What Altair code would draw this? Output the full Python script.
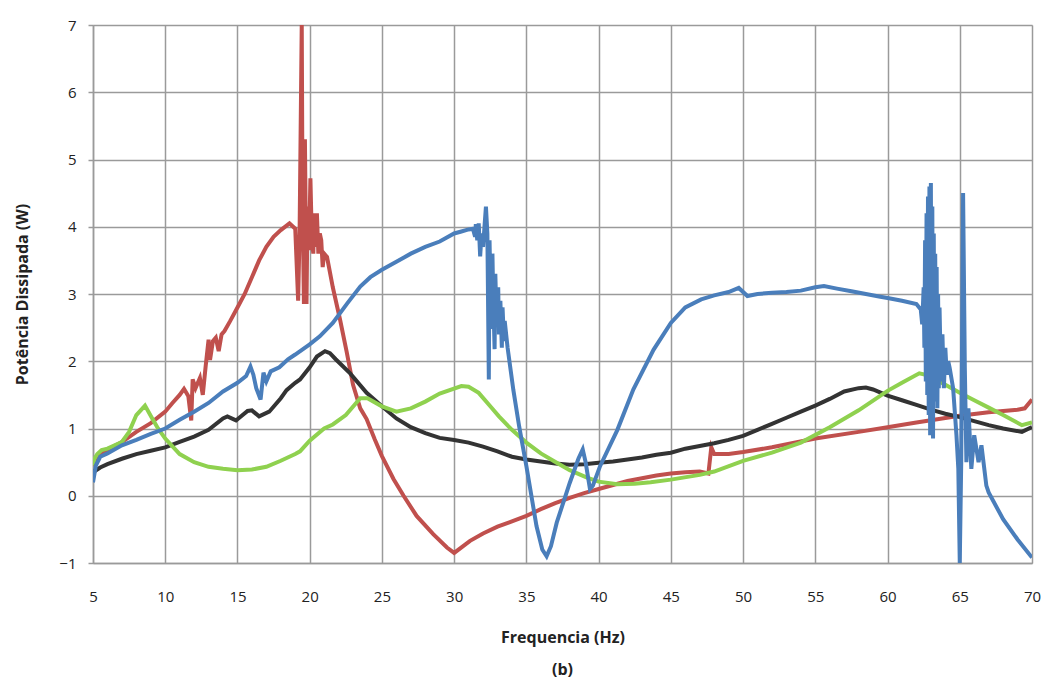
import altair as alt
import pandas as pd

# ---- data ----
red_hz = [5.0, 5.5, 6, 7, 8, 9, 10, 10.5, 11, 11.3, 11.6, 11.8, 11.9, 12.1, 12.4, 12.6, 12.8, 13.0, 13.1,
          13.3, 13.5, 13.7, 13.9, 14.1, 14.5, 15, 15.5, 16, 16.5, 17, 17.5, 18, 18.6, 19.0, 19.2, 19.3,
          19.45, 19.5, 19.6, 19.67, 19.78, 19.85, 19.95, 20.05, 20.15, 20.25, 20.3, 20.4, 20.5, 20.6,
          20.7, 20.8, 20.9, 21.0, 21.2, 21.6, 22.1, 22.55, 23.0, 23.5, 23.94, 24.5, 25, 25.8, 26.5, 27.4,
          28.55, 29.5, 30, 31.1, 32, 33, 34, 35, 36, 37, 38, 39, 40, 41, 42, 43, 44, 45, 46, 47, 47.6,
          47.8, 48, 49, 50, 52, 55, 58, 60, 62, 65, 67, 69, 69.5, 70]
red_w = [0.45, 0.6, 0.68, 0.8, 0.95, 1.08, 1.25, 1.38, 1.5, 1.59, 1.48, 1.12, 1.73, 1.6, 1.75, 1.5, 1.93,
         2.32, 2.02, 2.3, 2.35, 2.15, 2.4, 2.45, 2.6, 2.8, 3.0, 3.25, 3.5, 3.7, 3.85, 3.95, 4.05, 3.97,
         2.9, 3.9, 7.02, 4.5, 2.85, 5.3, 2.85, 4.3, 3.65, 4.72, 3.8, 3.6, 4.2, 3.7, 4.2, 3.6, 3.9, 3.8,
         3.4, 3.6, 3.55, 3.1, 2.62, 2.15, 1.65, 1.3, 1.14, 0.84, 0.59, 0.25, 0.0, -0.3, -0.57, -0.77,
         -0.85, -0.67, -0.56, -0.46, -0.38, -0.3, -0.2, -0.11, -0.03, 0.04, 0.1, 0.16, 0.22, 0.26, 0.3,
         0.33, 0.35, 0.36, 0.33, 0.72, 0.62, 0.62, 0.65, 0.72, 0.85, 0.95, 1.02, 1.09, 1.19, 1.24, 1.28,
         1.3, 1.43]

blue_hz = [5.0, 5.2, 5.5, 6, 7, 8, 9, 10, 11, 12, 13, 14, 15, 15.6, 15.9, 16.1, 16.3, 16.6, 16.8, 17.0,
           17.3, 17.9, 18.5, 19, 20, 20.7, 21.6, 22.6, 23.5, 24.2, 25, 26, 27, 28, 29, 30, 30.5, 31,
           31.3, 31.45, 31.5, 31.6, 31.7, 31.8, 31.9, 32.0, 32.1, 32.2, 32.3, 32.4, 32.45, 32.5, 32.6,
           32.65, 32.7, 32.8, 32.85, 32.9, 33.0, 33.05, 33.1, 33.2, 33.3, 33.35, 33.45, 33.5, 33.7, 34.1,
           34.5, 35, 35.7, 36.1, 36.4, 36.7, 37.1, 38, 38.6, 38.9, 39.1, 39.4, 39.6, 40.1, 41.3, 42.4,
           43.8, 45, 46, 47.1, 48, 49, 49.7, 50.3, 51, 52, 53, 54, 55, 55.6, 56.5, 57.5, 58.5, 59.5, 60,
           61, 62, 62.3, 62.4, 62.5, 62.55, 62.6, 62.65, 62.7, 62.75, 62.8, 62.85, 62.9, 62.95, 63.0,
           63.05, 63.1, 63.15, 63.2, 63.25, 63.3, 63.35, 63.4, 63.45, 63.5, 63.55, 63.6, 63.7, 63.8,
           63.9, 64.0, 64.1, 64.2, 64.3, 64.54, 64.77, 64.9, 65.0, 65.1, 65.23, 65.35, 65.46, 65.6,
           65.8, 66.0, 66.3, 66.5, 66.84, 67, 68, 69, 70]
blue_w = [0.2, 0.45, 0.58, 0.63, 0.75, 0.83, 0.92, 1.0, 1.13, 1.25, 1.38, 1.55, 1.68, 1.78, 1.92, 1.8,
          1.6, 1.43, 1.83, 1.7, 1.85, 1.91, 2.03, 2.1, 2.25, 2.37, 2.57, 2.86, 3.11, 3.25, 3.36, 3.48,
          3.6, 3.7, 3.78, 3.9, 3.93, 3.96, 3.97, 3.85, 4.04, 3.8, 4.05, 3.56, 3.9, 3.7, 4.0, 4.3, 3.9,
          1.73, 3.8, 3.2, 2.48, 3.6, 3.0, 2.18, 3.3, 2.9, 2.6, 3.1, 2.4, 2.9, 2.2, 2.8, 2.3, 2.6, 2.2,
          1.57, 1.03, 0.44, -0.45, -0.8, -0.9, -0.75, -0.4, 0.19, 0.55, 0.69, 0.5, 0.1, 0.15, 0.44, 0.98,
          1.58, 2.17, 2.57, 2.8, 2.92, 2.98, 3.03, 3.09, 2.97, 3.0, 3.02, 3.03, 3.05, 3.1, 3.12, 3.08,
          3.04, 3.0, 2.96, 2.94, 2.9, 2.85, 2.77, 2.55, 3.1, 2.2, 3.8, 1.7, 4.2, 1.5, 4.45, 1.2, 4.6, 0.9,
          4.65, 1.1, 4.3, 0.85, 3.9, 1.4, 3.6, 1.5, 3.4, 1.3, 3.0, 1.6, 2.8, 1.7, 2.4, 1.6, 2.2, 1.8, 2.0,
          1.9, 1.6, 0.9, 0.4, -1.0, 0.5, 4.5, 1.9, 0.5, 1.3, 0.4, 0.9, 0.5, 0.75, 0.15, 0.05, -0.35,
          -0.65, -0.92]

black_hz = [5.0, 5.5, 6, 7, 8, 9, 10, 11, 12, 13, 14, 14.3, 14.9, 15.7, 16, 16.5, 17.2, 18, 18.4, 19,
            19.33, 20, 20.5, 21.06, 21.4, 21.8, 22.8, 23.94, 25, 26, 27, 28, 29, 30, 31, 32, 33, 34, 35,
            36, 37, 38, 39, 40, 41, 42, 43, 44, 45, 46, 47, 48, 49, 50, 51, 52, 53, 54, 55, 56, 57, 58,
            58.5, 59, 60, 61, 62, 63, 64, 65, 66, 67, 68, 69.3, 70]
black_w = [0.35, 0.42, 0.47, 0.55, 0.62, 0.67, 0.72, 0.8, 0.88, 0.98, 1.15, 1.18, 1.12, 1.26, 1.27, 1.18,
           1.25, 1.45, 1.57, 1.68, 1.73, 1.91, 2.07, 2.15, 2.12, 2.03, 1.82, 1.53, 1.33, 1.15, 1.02, 0.93,
           0.86, 0.83, 0.79, 0.73, 0.66, 0.58, 0.54, 0.51, 0.48, 0.46, 0.47, 0.49, 0.51, 0.54, 0.57,
           0.61, 0.64, 0.7, 0.74, 0.78, 0.83, 0.89, 0.98, 1.07, 1.16, 1.25, 1.34, 1.44, 1.55, 1.6, 1.61,
           1.58, 1.49, 1.42, 1.35, 1.28, 1.22, 1.17, 1.11, 1.05, 1.0, 0.95, 1.02]

green_hz = [5.0, 5.1, 5.3, 5.6, 6, 6.5, 7, 7.5, 8, 8.6, 9.1, 9.5, 10, 11, 12, 13, 14, 15, 16, 17, 18, 19,
            19.33, 20, 21, 21.6, 22.5, 23.5, 24, 25, 26, 27, 28, 29, 30.5, 31, 31.7, 32.5, 33.1, 34, 35,
            36, 37.1, 38, 39.2, 40, 41.3, 42.5, 43.6, 45, 47, 48, 50, 52, 54, 56, 58, 60, 61, 62.2, 62.8,
            64, 65, 66, 67, 68, 69.3, 70]
green_w = [0.45, 0.55, 0.62, 0.68, 0.7, 0.75, 0.8, 0.95, 1.2, 1.34, 1.15, 1.0, 0.85, 0.62, 0.5, 0.43,
           0.4, 0.38, 0.39, 0.43, 0.52, 0.62, 0.66, 0.82, 1.0, 1.06, 1.2, 1.45, 1.45, 1.33, 1.25, 1.3,
           1.4, 1.52, 1.63, 1.62, 1.53, 1.33, 1.18, 0.98, 0.79, 0.63, 0.49, 0.38, 0.27, 0.21, 0.17, 0.18,
           0.2, 0.24, 0.31, 0.36, 0.52, 0.64, 0.79, 1.02, 1.27, 1.56, 1.68, 1.82, 1.79, 1.65, 1.53, 1.42,
           1.31, 1.2, 1.05, 1.09]

x_ticks = [5, 10, 15, 20, 25, 30, 35, 40, 45, 50, 55, 60, 65, 70]
y_ticks = [-1, 0, 1, 2, 3, 4, 5, 6, 7]

FONT = "Open Sans"
GRID = "#9a9a9a"

x_scale = alt.Scale(domain=[5, 70], nice=False, zero=False)
y_scale = alt.Scale(domain=[-1, 7], nice=False, zero=False)

x_axis = alt.Axis(values=x_ticks, title="Frequencia (Hz)", grid=True, gridColor=GRID,
                  gridWidth=1.5, domainColor=GRID, domainWidth=1.5, ticks=False,
                  labelPadding=26, labelFontSize=15, labelColor="#222", labelFont=FONT,
                  titleFont=FONT, titleFontSize=16, titleFontWeight="bold", titleColor="#222",
                  titlePadding=25, labelFlush=False)
y_axis = alt.Axis(values=y_ticks, title="Potência Dissipada (W)", grid=True, gridColor=GRID,
                  gridWidth=1.5, domainColor=GRID, domainWidth=1.5, ticks=True, tickSize=5,
                  tickColor=GRID, tickWidth=1.5, labelPadding=12, labelFontSize=15,
                  labelColor="#222", labelFont=FONT, titleFont=FONT, titleFontSize=16,
                  titleFontWeight="bold", titleColor="#222", titlePadding=28, labelFlush=False)


def layer(hz, w, color):
    df = pd.DataFrame({"hz": hz, "w": w})
    return alt.Chart(df).mark_line(color=color, strokeWidth=4, clip=True).encode(
        x=alt.X("hz:Q", scale=x_scale, axis=x_axis),
        y=alt.Y("w:Q", scale=y_scale, axis=y_axis),
    )


chart = alt.layer(
    layer(red_hz, red_w, "#C0504D"),
    layer(black_hz, black_w, "#333333"),
    layer(green_hz, green_w, "#8FD14F"),
    layer(blue_hz, blue_w, "#4A7EBB"),
).properties(
    width=939,
    height=538,
    autosize="none",
    padding={"left": 93, "top": 25, "right": 13, "bottom": 117},
    title=alt.TitleParams(text="(b)", orient="bottom", font=FONT, fontSize=16, fontWeight="bold",
                          color="#222", offset=17),
).configure_view(stroke=GRID, strokeWidth=1.5).configure(background="white")

chart.save("out.html", embed_options={"renderer": "svg", "actions": False})
